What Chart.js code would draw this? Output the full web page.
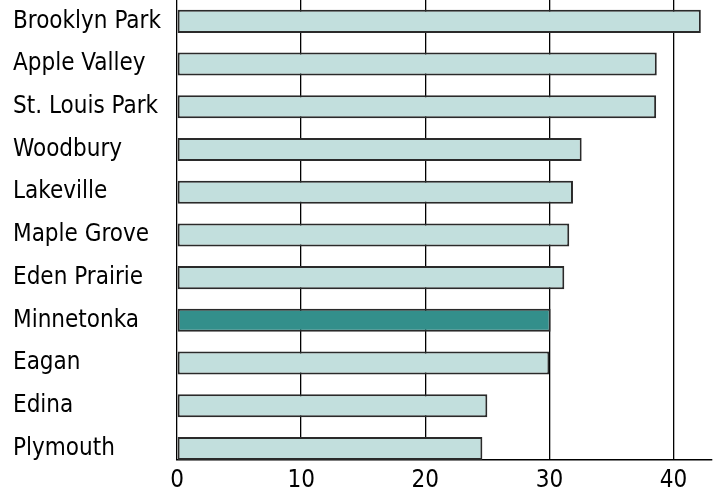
<!DOCTYPE html>
<html>
<head>
<meta charset="utf-8">
<script src="https://cdn.jsdelivr.net/npm/chart.js@4"></script>
<style>
  body { margin: 0; background: #fff; }
  #wrap { width: 714px; height: 489px; }
</style>
</head>
<body>
<div id="wrap"><canvas id="myChart"></canvas></div>
<script>
const cities = [
    'Brooklyn Park',
    'Apple Valley',
    'St. Louis Park',
    'Woodbury',
    'Lakeville',
    'Maple Grove',
    'Eden Prairie',
    'Minnetonka',
    'Eagan',
    'Edina',
    'Plymouth',
];
const values = [42.2, 38.65, 38.6, 32.6, 31.9, 31.6, 31.2, 30.1, 30.0, 25.0, 24.6];
const xTicks = [0, 10, 20, 30, 40];
const highlight = 'Minnetonka';

const font = { family: "'Liberation Sans Narrow', 'DejaVu Sans Condensed', sans-serif", size: 24 };

const data = {
    datasets: [{
        data: values.map((v, i) => ({ x: v, y: i })),
        backgroundColor: cities.map(c => c === highlight ? '#338f8b' : '#c2dfdd'),
        borderColor: '#2a2a2a',
        borderWidth: 2,
        borderSkipped: false,
        categoryPercentage: 1,
        barPercentage: 0.54,
    }]
};

const config = {
    type: 'bar',
    data: data,
    options: {
        indexAxis: 'y',
        responsive: true,
        maintainAspectRatio: false,
        animation: false,
        layout: { padding: { left: 13, right: 2, top: 0, bottom: 0 } },
        plugins: { legend: { display: false }, tooltip: { enabled: false } },
        scales: {
            x: {
                type: 'linear',
                bounds: 'data',
                min: 0,
                max: 43.1,
                z: 1,
                afterBuildTicks: axis => { axis.ticks = xTicks.map(v => ({ value: v })); },
                afterFit: axis => { axis.height = 29; axis.paddingLeft = 0; axis.paddingRight = 0; },
                grid: { color: '#000', lineWidth: 1.3, drawTicks: false },
                border: { color: '#000', width: 1.5 },
                ticks: { color: '#000', font: font, padding: 6, maxRotation: 0 },
            },
            y: {
                type: 'linear',
                bounds: 'data',
                offset: false,
                reverse: true,
                min: -0.5,
                max: 10.27,
                afterBuildTicks: axis => { axis.ticks = cities.map((c, i) => ({ value: i })); },
                afterFit: axis => { axis.width = 164; axis.paddingTop = 0; axis.paddingBottom = 0; },
                grid: { display: false, offset: false },
                border: { display: false },
                ticks: {
                    color: '#000',
                    font: font,
                    crossAlign: 'far',
                    callback: v => cities[v],
                },
            }
        }
    }
};

const myChart = new Chart(document.getElementById('myChart'), config);
</script>
</body>
</html>
